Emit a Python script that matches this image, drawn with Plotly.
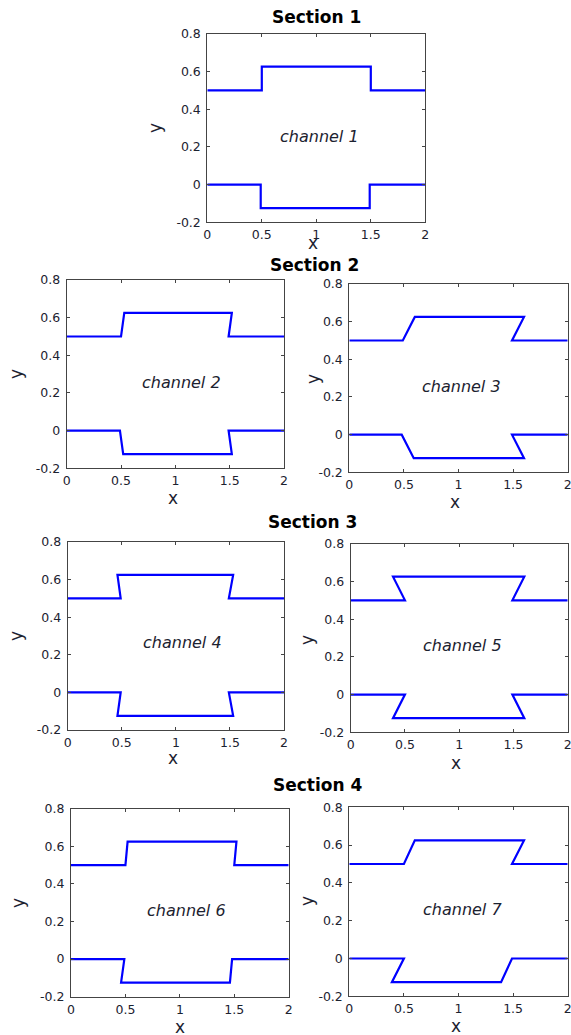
import plotly.graph_objects as go

W, H = 571, 1035

# ---- data ----
y_top = [0.5, 0.5, 0.625, 0.625, 0.5, 0.5]
y_bot = [0, 0, -0.125, -0.125, 0, 0]

ch1_top_x = [0, 0.5, 0.5, 1.5, 1.5, 2]
ch1_bot_x = [0, 0.49, 0.49, 1.49, 1.49, 2]
ch2_top_x = [0, 0.5, 0.53, 1.52, 1.49, 2]
ch2_bot_x = [0, 0.49, 0.52, 1.52, 1.49, 2]
ch3_top_x = [0, 0.49, 0.6, 1.6, 1.49, 2]
ch3_bot_x = [0, 0.48, 0.59, 1.6, 1.49, 2]
ch4_top_x = [0, 0.49, 0.46, 1.53, 1.49, 2]
ch4_bot_x = [0, 0.49, 0.46, 1.53, 1.49, 2]
ch5_top_x = [0, 0.5, 0.39, 1.6, 1.49, 2]
ch5_bot_x = [0, 0.5, 0.39, 1.6, 1.49, 2]
ch6_top_x = [0, 0.5, 0.52, 1.52, 1.5, 2]
ch6_bot_x = [0, 0.49, 0.46, 1.46, 1.48, 2]
ch7_top_x = [0, 0.5, 0.6, 1.6, 1.49, 2]
ch7_bot_x = [0, 0.5, 0.39, 1.39, 1.49, 2]

channel_labels = ["channel 1", "channel 2", "channel 3", "channel 4",
                  "channel 5", "channel 6", "channel 7"]
label_x = [1.03, 1.06, 1.03, 1.06, 1.03, 1.06, 1.035]
label_y = [0.255, 0.256, 0.257, 0.263, 0.26, 0.258, 0.26]

section_titles = ["Section 1", "Section 2", "Section 3", "Section 4"]

x_tickvals = [0, 0.5, 1, 1.5, 2]
x_ticktext = ["0", "0.5", "1", "1.5", "2"]
y_tickvals = [-0.2, 0, 0.2, 0.4, 0.6, 0.8]
y_ticktext = ["-0.2", "0", "0.2", "0.4", "0.6", "0.8"]

tops = [ch1_top_x, ch2_top_x, ch3_top_x, ch4_top_x, ch5_top_x, ch6_top_x, ch7_top_x]
bots = [ch1_bot_x, ch2_bot_x, ch3_bot_x, ch4_bot_x, ch5_bot_x, ch6_bot_x, ch7_bot_x]

# ---- layout (pixel boxes: left, right, top, bottom) ----
boxes = [
    (207.3, 425.3, 33.7, 222.3),
    (66.7, 284.0, 280.0, 468.3),
    (349.3, 567.7, 284.0, 472.3),
    (67.7, 284.0, 542.0, 730.0),
    (350.7, 567.7, 543.7, 732.3),
    (71.0, 288.7, 808.7, 996.7),
    (349.3, 567.7, 807.3, 996.3),
]
xlab_pos = [(313, 243), (173, 498), (455, 502), (173, 758), (456, 763), (180, 1027), (456, 1026)]
ylab_pos = [(155, 128), (16, 374), (313, 379), (16, 636), (307, 640), (18, 903), (307, 901)]
title_pos = [(316.5, 17), (314.5, 265), (312.7, 522), (317.6, 785)]

FONT = "DejaVu Sans"
AX_COLOR = "#444444"
TXT_COLOR = "#1c2230"

fig = go.Figure()
layout = dict(
    width=W, height=H,
    margin=dict(l=0, r=0, t=0, b=0, pad=0, autoexpand=False),
    paper_bgcolor="white", plot_bgcolor="white",
    showlegend=False,
    font=dict(family=FONT, color=TXT_COLOR, size=12),
)
annotations = []

for i in range(7):
    n = i + 1
    xa = "x" if n == 1 else f"x{n}"
    ya = "y" if n == 1 else f"y{n}"
    for xs, ys in ((tops[i], y_top), (bots[i], y_bot)):
        fig.add_trace(go.Scatter(x=xs, y=ys, mode="lines", xaxis=xa, yaxis=ya,
                                 line=dict(color="#0000ff", width=2.2),
                                 hoverinfo="skip", cliponaxis=False))
    l, r, t, b = boxes[i]
    axcommon = dict(showline=True, mirror="ticks", linecolor=AX_COLOR, linewidth=1,
                    ticks="inside", ticklen=3, tickcolor=AX_COLOR, tickwidth=1,
                    showgrid=False, zeroline=False, fixedrange=True, automargin=False,
                    ticklabeloverflow="allow",
                    tickfont=dict(family=FONT, size=12.5, color=TXT_COLOR))
    layout[f"xaxis{n}"] = dict(domain=[l / W, r / W], range=[0, 2],
                               tickvals=x_tickvals, ticktext=x_ticktext,
                               anchor=ya, ticklabelstandoff=1, **axcommon)
    layout[f"yaxis{n}"] = dict(domain=[1 - b / H, 1 - t / H], range=[-0.2, 0.8],
                               tickvals=y_tickvals, ticktext=y_ticktext,
                               anchor=xa, ticklabelstandoff=3, **axcommon)
    annotations.append(dict(x=label_x[i], y=label_y[i], xref=xa, yref=ya,
                            text=f"<i>{channel_labels[i]}</i>", showarrow=False,
                            font=dict(family=FONT, size=16, color=TXT_COLOR)))
    annotations.append(dict(x=xlab_pos[i][0] / W, y=1 - xlab_pos[i][1] / H,
                            xref="paper", yref="paper", text="x", showarrow=False,
                            xanchor="center", yanchor="middle",
                            font=dict(family=FONT, size=17, color=TXT_COLOR)))
    annotations.append(dict(x=ylab_pos[i][0] / W, y=1 - ylab_pos[i][1] / H,
                            xref="paper", yref="paper", text="y", showarrow=False,
                            xanchor="center", yanchor="middle", textangle=-90,
                            font=dict(family=FONT, size=17, color=TXT_COLOR)))

for k, tt in enumerate(section_titles):
    annotations.append(dict(x=title_pos[k][0] / W, y=1 - title_pos[k][1] / H,
                            xref="paper", yref="paper", text=f"<b>{tt}</b>",
                            showarrow=False, xanchor="center", yanchor="middle",
                            font=dict(family=FONT, size=17, color="black")))

layout["annotations"] = annotations
fig.update_layout(**layout)
fig.write_html(
    "out.html",
    config={"displayModeBar": False},
    post_script="document.body.style.margin='0';document.body.style.overflow='hidden';",
)
